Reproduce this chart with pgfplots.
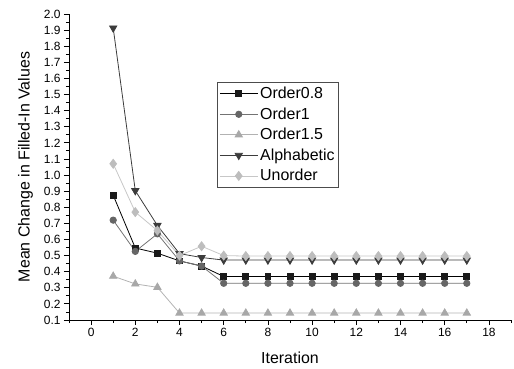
\documentclass[border=0pt]{standalone}
\usepackage{pgfplots}
\pgfplotsset{compat=1.18}
\usepackage{fontspec}
\setmainfont{Liberation Sans}
\definecolor{cA}{HTML}{1A1A1A}
\definecolor{cB}{HTML}{666666}
\definecolor{cC}{HTML}{A8A8A8}
\definecolor{cD}{HTML}{3C3C3C}
\definecolor{cE}{HTML}{BDBDBD}
\begin{document}
\begin{tikzpicture}
\path[use as bounding box] (-69bp,-49bp) rectangle (445bp,320bp);
\begin{axis}[
  at={(0,0)}, anchor=south west,
  scale only axis, width=442bp, height=306bp,
  xmin=-1, xmax=19, ymin=0.1, ymax=2.0,
  axis x line=bottom, axis y line=left,
  axis line style={-, line width=0.8pt},
  tick align=outside,
  major tick length=5bp, minor tick length=3bp,
  tick style={line width=0.8pt, black},
  xtick={0,2,...,18}, minor xtick={-1,1,...,19},
  ytick={0.1,0.2,...,2.01}, minor ytick={0.15,0.25,...,1.96},
  yticklabel style={/pgf/number format/.cd, fixed, fixed zerofill, precision=1},
  /pgf/number format/assume math mode=true,
  ticklabel style={font=\fontsize{12}{14}\selectfont},
  xlabel={Iteration}, ylabel={Mean Change in Filled-In Values},
  label style={font=\fontsize{16}{19}\selectfont},
  xlabel style={yshift=-8bp},
  ylabel style={yshift=4bp},
  legend style={at={(rel axis cs:0.335,0.778)}, anchor=north west,
    draw=black!70, line width=0.6pt, font=\fontsize{16}{19}\selectfont,
    inner xsep=2bp, inner ysep=4bp, row sep=5.5bp,
    nodes={inner xsep=2bp, inner ysep=1bp}},
  legend cell align=left,
  legend image code/.code={\draw[mark repeat=2,mark phase=2,#1] plot coordinates {(0bp,0bp) (19bp,0bp) (38bp,0bp)};},
  every axis plot/.append style={line width=0.8pt},
]
\addplot[color=black, mark=square*, mark size=3pt, mark options={fill=cA, draw=cA}] coordinates {
(1,0.875) (2,0.547) (3,0.515) (4,0.467) (5,0.435) (6,0.37) (7,0.37) (8,0.37) (9,0.37) (10,0.37) (11,0.37) (12,0.37) (13,0.37) (14,0.37) (15,0.37) (16,0.37) (17,0.37)};
\addlegendentry{Order0.8}
\addplot[color=black!55, mark=*, mark size=3.2pt, mark options={fill=cB, draw=cB}] coordinates {
(1,0.72) (2,0.526) (3,0.635) (4,0.467) (5,0.435) (6,0.328) (7,0.328) (8,0.328) (9,0.328) (10,0.328) (11,0.328) (12,0.328) (13,0.328) (14,0.328) (15,0.328) (16,0.328) (17,0.328)};
\addlegendentry{Order1}
\addplot[color=black!30, mark=triangle*, mark size=4.2pt, mark options={fill=cC, draw=cC}] coordinates {
(1,0.372) (2,0.324) (3,0.303) (4,0.143) (5,0.143) (6,0.143) (7,0.143) (8,0.143) (9,0.143) (10,0.143) (11,0.143) (12,0.143) (13,0.143) (14,0.143) (15,0.143) (16,0.143) (17,0.143)};
\addlegendentry{Order1.5}
\addplot[color=cD, mark=triangle*, mark size=4.2pt, mark options={rotate=180, fill=cD, draw=cD}] coordinates {
(1,1.913) (2,0.903) (3,0.687) (4,0.512) (5,0.488) (6,0.472) (7,0.472) (8,0.472) (9,0.472) (10,0.472) (11,0.472) (12,0.472) (13,0.472) (14,0.472) (15,0.472) (16,0.472) (17,0.472)};
\addlegendentry{Alphabetic}
\addplot[color=black!22, mark=diamond*, mark size=4.5pt, mark options={fill=cE, draw=cE}] coordinates {
(1,1.07) (2,0.77) (3,0.655) (4,0.50) (5,0.558) (6,0.50) (7,0.497) (8,0.497) (9,0.497) (10,0.497) (11,0.497) (12,0.497) (13,0.497) (14,0.497) (15,0.497) (16,0.497) (17,0.497)};
\addlegendentry{Unorder}
\end{axis}
\end{tikzpicture}
\end{document}
